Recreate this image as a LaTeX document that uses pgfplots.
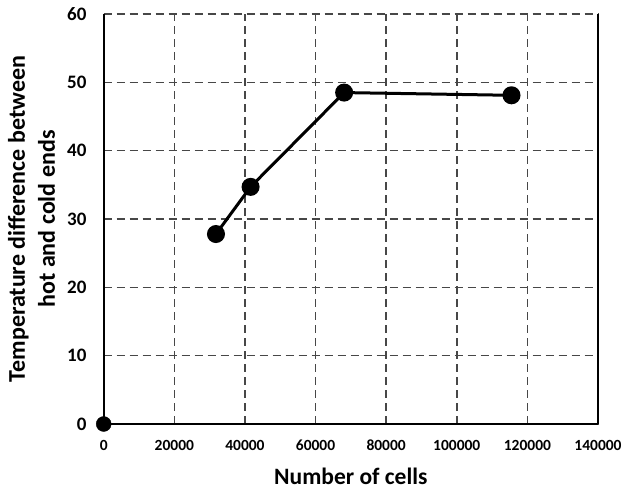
\documentclass[border=0pt]{standalone}
\usepackage{pgfplots}
\pgfplotsset{compat=1.18}
\usepackage{fontspec}
\setmainfont{Carlito}
\begin{document}
\begin{tikzpicture}
\begin{axis}[
  name=ax,
  scale only axis,
  width=494.3pt, height=410pt,
  xmin=0, xmax=140000, ymin=0, ymax=60,
  xtick={0,20000,...,140000},
  ytick={0,10,...,60},
  scaled x ticks=false,
  /pgf/number format/assume math mode=true,
  xticklabel={\pgfmathprintnumber[1000 sep={},fixed,precision=0]{\tick}},
  xticklabel style={font=\fontsize{15.5}{17}\selectfont\bfseries, inner sep=0pt, anchor=north, yshift=-16pt},
  yticklabel style={font=\fontsize{19}{21}\selectfont\bfseries, inner sep=0pt, anchor=east, xshift=-17pt},
  axis x line*=bottom, axis y line*=left,
  axis line style={black, line width=2pt, -},
  major tick length=0pt,
  grid=major,
  major grid style={dash pattern=on 8pt off 5pt, color=black!72, line width=1.5pt},
  extra x ticks={140000},
  extra x tick labels={},
  extra x tick style={grid=major, major grid style={solid, black, line width=2pt}},
  xlabel={Number of cells},
  ylabel={Temperature difference between\\hot and cold ends},
  xlabel style={font=\fontsize{23.5}{26}\selectfont\bfseries, at={(axis description cs:0.5,0)}, anchor=base, yshift=-61pt},
  ylabel style={font=\fontsize{24}{30}\selectfont\bfseries, align=center, at={(axis description cs:-0.146,0.5)}, anchor=center},
  clip=false,
]
\addplot[black, line width=3pt, mark=*, mark size=7.5pt, mark options={solid}] coordinates {
  (31800,27.8) (41600,34.7) (68100,48.5) (115500,48.1)
};
\addplot[only marks, black, mark=*, mark size=7.5pt] coordinates {(0,0)};
\end{axis}
\pgfresetboundingbox
\path[use as bounding box] ([xshift=-103.7pt,yshift=-68pt]ax.south west) rectangle ([xshift=25pt,yshift=14pt]ax.north east);
\end{tikzpicture}
\end{document}
